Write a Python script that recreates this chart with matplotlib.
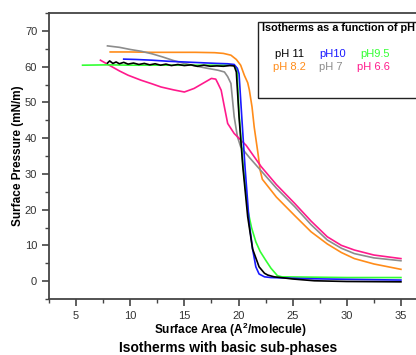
import numpy as np
import matplotlib
matplotlib.use("Agg")
import matplotlib.pyplot as plt
from matplotlib.patches import Rectangle
from matplotlib.ticker import MultipleLocator, FixedLocator

plt.rcParams["font.family"] = ["Liberation Sans", "DejaVu Sans"]
plt.rcParams["mathtext.fontset"] = "custom"
plt.rcParams["mathtext.rm"] = "Liberation Sans"
plt.rcParams["mathtext.bf"] = "Liberation Sans:bold"

# --- data ---
x_ph11 = [7.9, 8.1, 8.4, 8.7, 9.0, 9.4, 9.8, 10.3, 10.8, 11.3, 11.8, 12.3, 12.8, 13.3,
          13.8, 14.4, 15.0, 15.6, 16.2, 16.8, 17.4, 18.0, 18.6, 19.2, 19.6, 19.8, 20.05,
          20.4, 20.85, 21.3, 21.9, 22.4, 22.7, 23.3, 23.9, 25.0, 27.0, 30.0, 35.0]
y_ph11 = [61.0, 61.6, 60.9, 61.3, 60.8, 61.2, 60.7, 61.0, 60.6, 60.9, 60.5, 60.8, 60.4, 60.7,
          60.3, 60.6, 60.3, 60.5, 60.1, 60.4, 60.1, 60.2, 60.1, 60.3, 60.2, 58.5, 46.0,
          32.0, 18.0, 9.0, 4.0, 2.2, 1.7, 1.2, 1.0, 0.6, 0.1, -0.1, -0.2]

x_ph10 = [9.4, 10.5, 12.0, 13.5, 15.0, 16.5, 18.0, 19.0, 19.6, 19.9, 20.05, 20.3, 20.6,
          21.0, 21.3, 21.6, 21.9, 22.4, 23.0, 24.0, 26.0, 30.0, 35.0]
y_ph10 = [62.1, 62.0, 61.8, 61.5, 61.3, 61.1, 60.9, 60.8, 60.6, 59.5, 58.0, 46.0, 32.0,
          16.0, 9.0, 4.0, 2.0, 1.2, 1.0, 0.9, 0.7, 0.5, 0.3]

x_ph95 = [5.6, 8.0, 10.0, 12.0, 14.0, 16.0, 18.0, 19.5, 19.85, 20.05, 20.4, 20.85, 21.2,
          21.6, 22.0, 22.5, 23.0, 23.6, 24.0, 27.0, 30.0, 35.0]
y_ph95 = [60.4, 60.5, 60.4, 60.4, 60.4, 60.4, 60.4, 60.4, 59.5, 47.0, 33.0, 20.0, 15.0,
          11.0, 8.3, 5.9, 3.6, 1.5, 1.2, 1.1, 1.0, 1.0]

x_ph82 = [8.15, 10.0, 12.0, 14.0, 16.0, 17.8, 18.6, 19.3, 19.8, 20.2, 20.55, 20.85, 21.0,
          21.25, 21.45, 21.8, 22.0, 22.2, 23.5, 25.2, 26.7, 28.2, 29.5, 30.7, 32.5, 35.0]
y_ph82 = [64.1, 64.1, 64.0, 64.0, 64.0, 63.9, 63.7, 63.2, 62.0, 60.4, 57.5, 55.5, 53.5,
          48.7, 43.1, 35.7, 31.0, 28.5, 23.5, 18.3, 13.8, 10.4, 8.0, 6.3, 4.8, 3.3]

x_ph7 = [7.9, 9.0, 10.0, 11.0, 12.0, 13.0, 14.0, 15.0, 16.0, 17.0, 18.1, 18.7, 19.0, 19.3,
         19.6, 19.9, 20.2, 21.0, 21.9, 23.5, 25.2, 26.7, 28.2, 29.5, 30.7, 32.5, 35.0]
y_ph7 = [65.8, 65.4, 64.8, 64.3, 63.6, 62.7, 61.7, 60.9, 60.2, 59.6, 59.0, 58.5, 57.2, 55.3,
         46.0, 40.4, 37.6, 34.6, 31.5, 26.0, 20.8, 15.8, 11.5, 9.2, 7.7, 6.5, 5.7]

x_ph66 = [7.25, 8.0, 9.0, 9.8, 11.0, 12.0, 12.85, 14.0, 15.0, 15.9, 16.7, 17.5, 17.9, 18.1,
          18.4, 18.7, 19.0, 19.6, 20.7, 22.1, 23.5, 25.2, 26.7, 28.2, 29.5, 30.7, 32.5, 35.0]
y_ph66 = [61.8, 60.5, 58.8, 57.6, 56.2, 55.2, 54.3, 53.5, 52.9, 53.9, 55.3, 56.7, 56.5, 55.3,
          53.4, 48.7, 44.1, 41.3, 38.0, 32.0, 27.0, 21.7, 16.8, 12.4, 10.0, 8.7, 7.3, 6.3]

# --- plot ---
fig = plt.figure(figsize=(4.16, 3.55), dpi=100)
ax = fig.add_axes([49 / 416, 56 / 355, 379 / 416, 286 / 355])

lw = 1.2
ax.plot(x_ph82, y_ph82, color="#ff8c1a", lw=lw)
ax.plot(x_ph7, y_ph7, color="#8c8c8c", lw=lw)
ax.plot(x_ph66, y_ph66, color="#ff1a8c", lw=lw)
ax.plot(x_ph95, y_ph95, color="#33ff33", lw=lw)
ax.plot(x_ph10, y_ph10, color="#1a1aff", lw=lw)
ax.plot(x_ph11, y_ph11, color="black", lw=lw)

ax.set_xlim(2.5, 37.5)
ax.set_ylim(-5, 75)
ax.xaxis.set_major_locator(MultipleLocator(5))
ax.xaxis.set_minor_locator(FixedLocator(np.arange(2.5, 38, 5)))
ax.yaxis.set_major_locator(MultipleLocator(10))
ax.yaxis.set_minor_locator(MultipleLocator(5))

for s in ax.spines.values():
    s.set_color("#444444")
    s.set_linewidth(1.3)
ax.tick_params(which="both", direction="out", colors="#444444", labelcolor="#333333",
               top=False, right=False)
ax.tick_params(which="major", length=5, width=1.2, labelsize=8)
ax.tick_params(which="minor", length=3, width=1.0)

ax.set_xlabel(r"Surface Area (A$^\mathbf{2}$/molecule)", fontsize=8.5, fontweight="bold")
ax.xaxis.set_label_coords(0.478, -0.075)
ax.set_ylabel("Surface Pressure (mN/m)", fontsize=8.5, fontweight="bold")
ax.yaxis.set_label_coords(-0.066, 0.5)

# legend-like text box (runs off the right edge, as in the original)
ax.add_patch(Rectangle((0.5515, 0.703), 0.8, 0.2655, transform=ax.transAxes,
                       fill=False, ec="#222222", lw=1.0, clip_on=False))
ax.text(0.562, 0.9476, "Isotherms as a function of pH", transform=ax.transAxes,
        fontsize=7.8, fontweight="bold", ha="left", va="center")
labels = [("pH 11", 0.596, 0.857, "black"), ("pH10", 0.713, 0.857, "#1a1aff"),
          ("pH9.5", 0.8206, 0.857, "#33ff33"), ("pH 8.2", 0.590, 0.811, "#ff8c1a"),
          ("pH 7", 0.713, 0.811, "#8c8c8c"), ("pH 6.6", 0.8135, 0.811, "#ff1a8c")]
for txt, lx, ly, c in labels:
    ax.text(lx, ly, txt, transform=ax.transAxes, fontsize=8, color=c,
            ha="left", va="center")

fig.text(228 / 416, 1 - 348 / 355, "Isotherms with basic sub-phases",
         fontsize=10, fontweight="bold", ha="center", va="center")

fig.savefig("out.png", dpi=100)
